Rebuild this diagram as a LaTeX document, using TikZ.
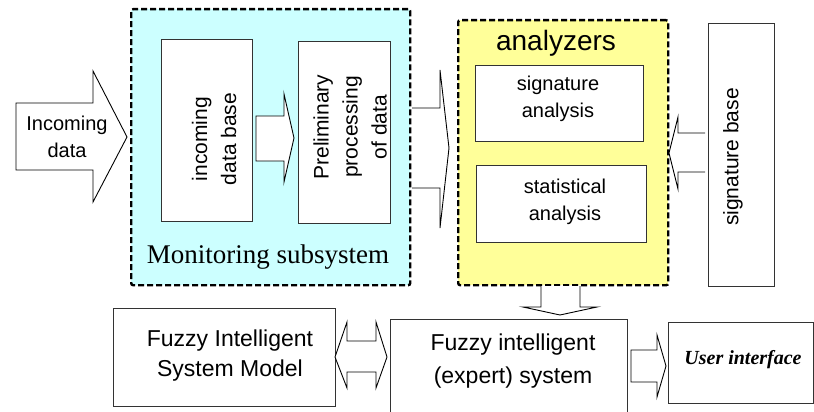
\documentclass[tikz,border=0pt]{standalone}
\usepackage{fontspec}
\setmainfont{Liberation Sans}
\newfontfamily\seriffont{Liberation Serif}
\definecolor{cyanfill}{HTML}{CCFFFF}
\definecolor{yellowfill}{HTML}{FFFF99}
\newcommand{\fsz}[2]{\fontsize{#1}{#2}\selectfont}
\tikzset{
  box/.style={draw=black!80, line width=1.3pt, fill=white, inner sep=0pt, anchor=north west},
  groupbox/.style={draw=black, line width=2.4pt, dash pattern=on 6pt off 3pt, rounded corners=2pt, inner sep=0pt, anchor=north west},
  barrow/.style={draw=black, line width=0.9pt, fill=white, line join=miter},
  txt/.style={align=center, inner sep=0pt, font=\fsz{20}{27}},
}
\begin{document}
\begin{tikzpicture}[x=1pt,y=-1pt]
\useasboundingbox (0,0) rectangle (814,412);
% groups
\node[groupbox, fill=cyanfill, minimum width=279, minimum height=276] (mon) at (130,8) {};
\node[groupbox, fill=yellowfill, minimum width=210, minimum height=265] (ana) at (457,19) {};
% boxes
\node[box, minimum width=91, minimum height=182] (idb) at (161,39) {};
\node[box, minimum width=92, minimum height=182] (pre) at (298,41) {};
\node[box, minimum width=168, minimum height=76] (sa) at (475,65) {};
\node[box, minimum width=170, minimum height=77] (st) at (476,165) {};
\node[box, minimum width=66, minimum height=263] (sb) at (708,23) {};
\node[box, minimum width=222, minimum height=98] (fism) at (113,308) {};
\node[box, minimum width=237, minimum height=100] (fes) at (390,319) {};
\node[box, minimum width=145, minimum height=81] (ui) at (668,322) {};
% block arrows
\draw[barrow] (16,103) -- (93,103) -- (93,71) -- (127,137) -- (93,202) -- (93,170) -- (16,170) -- cycle;
\draw[barrow] (256,116) -- (284,116) -- (284,94) -- (294,138) -- (284,182) -- (284,161) -- (256,161) -- cycle;
\draw[barrow] (412,108) -- (440,108) -- (440,70) -- (449,148) -- (440,228) -- (440,188) -- (412,188);
\draw[barrow] (705,133) -- (678,133) -- (678,117) -- (669,153) -- (678,189) -- (678,172) -- (705,172);
\draw[barrow] (541,286) -- (541,307) -- (523,307) -- (560,315) -- (597,307) -- (580,307) -- (580,286);
\draw[barrow] (335,357) -- (347,322) -- (347,341) -- (376,341) -- (376,322) -- (387,357) -- (376,388) -- (376,372) -- (347,372) -- (347,388) -- cycle;
\draw[barrow] (631,350) -- (657,350) -- (657,335) -- (666,366) -- (657,397) -- (657,382) -- (631,382) -- cycle;
% texts
\node[txt] (tin) at (67,137) {Incoming\\data};
\node[txt, rotate=90, font=\fsz{21}{29}] (tidb) at (214,139) {incoming\\data base};
\node[txt, rotate=90, font=\fsz{21}{29}] (tpre) at (350,127) {Preliminary\\processing\\of data};
\node[txt, anchor=base, font=\seriffont\fsz{27}{30}] (tmon) at (268,263) {Monitoring subsystem};
\node[txt, anchor=base, font=\fsz{28}{30}] (tana) at (556,51) {analyzers};
\node[txt] (tsa) at (558,99) {signature\\analysis};
\node[txt] (tst) at (565,202) {statistical\\analysis};
\node[txt, rotate=90, font=\fsz{21}{29}] (tsb) at (733,157) {signature base};
\node[txt, font=\fsz{23}{30}] (tfism) at (230,356) {Fuzzy Intelligent\\System Model};
\node[txt, font=\fsz{23}{33}] (tfes) at (513,361) {Fuzzy intelligent\\(expert) system};
\node[txt, font=\seriffont\bfseries\itshape\fsz{20}{24}] (tui) at (743,360) {User interface};
\end{tikzpicture}
\end{document}
